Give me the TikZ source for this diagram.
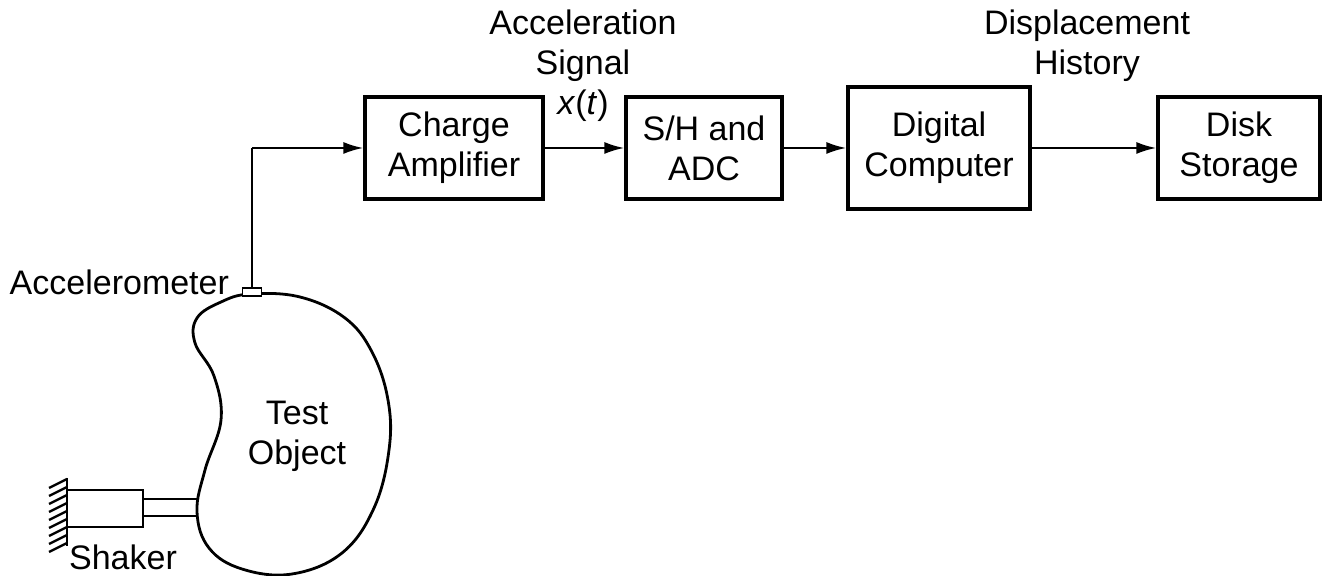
\documentclass[tikz,border=0pt]{standalone}
\usepackage{fontspec}
\setmainfont{Liberation Sans}
\usetikzlibrary{arrows.meta}

\begin{document}
\begin{tikzpicture}[x=0.5pt,y=-0.5pt,
  font=\fontsize{17}{20}\selectfont,
  block/.style={draw=black,line width=1.6pt,align=center,inner sep=0pt},
  sig/.style={-{Latex[length=10pt,width=6pt]},line width=1.2pt},
  thin/.style={line width=1.2pt}]
\useasboundingbox (0,0) rectangle (1329,576);
% measurement chain
\node[block,minimum width=89pt,minimum height=51pt] (ca) at (454,148) {Charge\\Amplifier};
\node[block,minimum width=78pt,minimum height=51pt] (adc) at (704,148) {S/H and\\ADC};
\node[block,minimum width=91pt,minimum height=61pt] (comp) at (939,148) {Digital\\Computer};
\node[block,minimum width=81pt,minimum height=51pt] (disk) at (1239,148) {Disk\\Storage};
\draw[sig] (ca.east) -- (adc.west);
\draw[sig] (adc.east) -- (comp.west);
\draw[sig] (comp.east) -- (disk.west);
\node[align=center] (acclbl) at (583,66) {Acceleration\\Signal\\\textit{x}(\textit{t})};
\node[align=center] (displbl) at (1087,46) {Displacement\\History};
% test object with accelerometer on top
\draw[line width=1.4pt] plot[smooth cycle,tension=0.65] coordinates {
  (250,294) (300,297) (345,318) (372,352) (388,400) (389,450) (374,508)
  (342,553) (292,574) (242,569) (209,548) (197,512) (205,470) (221,420)
  (214,376) (195,343) (197,318) (221,302)};
\node[align=center] (obj) at (297,436) {Test\\Object};
\node[draw=black,fill=white,line width=0.9pt,minimum width=9.5pt,minimum height=4pt,inner sep=0pt] (acc) at (252,292) {};
\node[anchor=east] (acclabel) at (236,282) {Accelerometer};
\coordinate (bend) at (acc.north |- ca.west);
\draw[thin] (acc.north) -- (bend);
\draw[sig] (bend) -- (ca.west);
% shaker against the wall
\draw[line width=1.4pt] (67,478) -- (67,546);
\foreach \y in {479,487,...,543}
  \draw[thin] (67,\y) -- (49,\y+9);
\node[draw=black,line width=1.4pt,minimum width=38pt,minimum height=18.5pt,inner sep=0pt] (shk) at (105,508.5) {};
\draw[thin] (143,499) -- (198,499);
\draw[thin] (143,516) -- (198,516);
\node[inner sep=0pt] (shklbl) at (123,557) {Shaker};
\end{tikzpicture}
\end{document}
